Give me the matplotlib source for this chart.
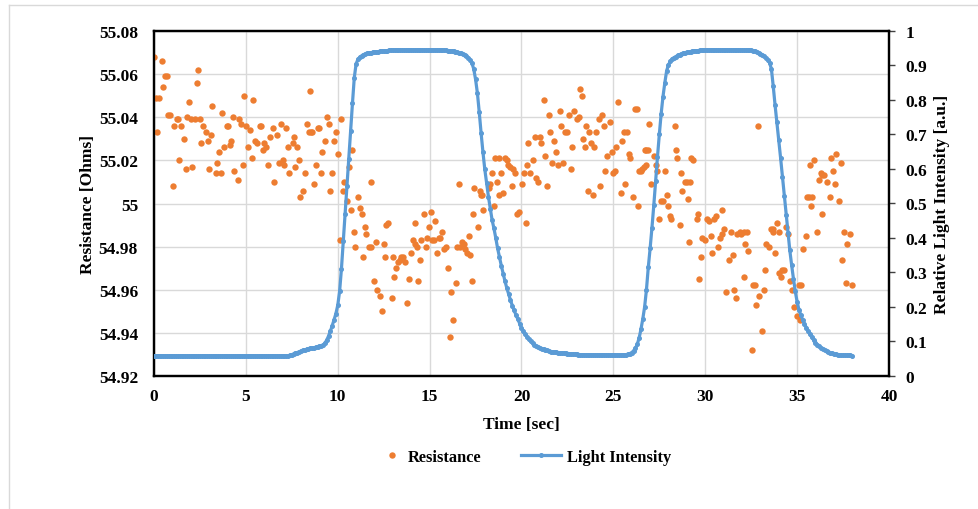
import numpy as np
import matplotlib
matplotlib.use("Agg")
import matplotlib.pyplot as plt
from matplotlib.lines import Line2D

# ---------------- data ----------------
res_time = [
    0.00, 0.09, 0.18, 0.27, 0.43, 0.51, 0.60, 0.69, 0.78, 0.87, 1.03, 1.10, 1.23, 1.32, 1.38, 1.47,
    1.63, 1.72, 1.81, 1.90, 1.99, 2.08, 2.23, 2.32, 2.41, 2.50, 2.57, 2.66, 2.83, 2.92, 3.01, 3.10,
    3.17, 3.35, 3.44, 3.53, 3.62, 3.70, 3.79, 3.95, 4.04, 4.13, 4.20, 4.29, 4.38, 4.55, 4.64, 4.73,
    4.82, 4.89, 4.98, 5.14, 5.24, 5.33, 5.40, 5.49, 5.58, 5.76, 5.83, 5.92, 6.01, 6.09, 6.18, 6.34,
    6.45, 6.52,
    6.69, 6.78, 6.92, 7.01, 7.10, 7.19, 7.28, 7.37, 7.54, 7.63, 7.70, 7.79, 7.88, 7.97, 8.13, 8.22,
    8.32, 8.41, 8.50, 8.55, 8.59, 8.73, 8.82, 8.91, 9.00, 9.08, 9.17, 9.33, 9.42, 9.51, 9.58, 9.67,
    9.77, 9.93, 10.02, 10.11, 10.18, 10.27, 10.36, 10.51, 10.62, 10.72, 10.80, 10.87, 10.96, 11.12,
    11.21, 11.30, 11.39, 11.47, 11.56, 11.72, 11.79, 11.81, 11.97, 12.07, 12.16, 12.32, 12.43, 12.50,
    12.59, 12.65, 12.75, 12.93, 13.01, 13.08, 13.15,
    13.26, 13.37, 13.44, 13.55, 13.68, 13.77, 13.86, 13.99, 14.09, 14.18, 14.22, 14.31, 14.37, 14.46,
    14.55, 14.71, 14.80, 14.87, 14.95, 15.05, 15.14, 15.22, 15.31, 15.40, 15.49, 15.58, 15.67, 15.80,
    15.89, 15.99, 16.09, 16.18, 16.27, 16.41, 16.50, 16.61, 16.67, 16.76, 16.85, 16.92, 17.03, 17.12,
    17.21, 17.28, 17.36, 17.43, 17.64, 17.72, 17.79, 17.86, 17.93, 18.22, 18.30, 18.39, 18.50, 18.57,
    18.64, 18.75, 18.80, 18.89, 19.02, 19.11, 19.20, 19.29, 19.38, 19.47, 19.56, 19.66, 19.75,
    19.89, 20.04, 20.13, 20.22, 20.31, 20.36, 20.45, 20.62, 20.71, 20.80, 20.89, 20.98, 21.05, 21.21,
    21.30, 21.40, 21.49, 21.56, 21.67, 21.76, 21.88, 21.97, 22.07, 22.16, 22.25, 22.36, 22.48, 22.57,
    22.68, 22.75, 22.84, 23.03, 23.12, 23.21, 23.30, 23.35, 23.46, 23.53, 23.62, 23.70, 23.80, 23.88,
    23.95, 24.04, 24.20, 24.29, 24.38, 24.47, 24.56, 24.66, 24.82, 24.93, 24.98, 25.07, 25.15, 25.25,
    25.40, 25.47, 25.56, 25.65, 25.74, 25.83, 25.92, 26.07, 26.20, 26.29, 26.34, 26.41,
    26.48, 26.57, 26.67, 26.70, 26.76, 26.79, 26.88, 26.94, 27.03, 27.21, 27.30, 27.35, 27.48, 27.57,
    27.72, 27.81, 27.90, 27.99, 28.06, 28.15, 28.33, 28.39, 28.48, 28.60, 28.66, 28.75, 28.89, 29.02,
    29.05, 29.09, 29.17, 29.24, 29.33, 29.53, 29.60, 29.67, 29.75, 29.84, 29.96, 30.11, 30.20, 30.33,
    30.38, 30.47, 30.56, 30.71, 30.80, 30.89, 30.92, 31.01, 31.12, 31.30, 31.39, 31.50, 31.58, 31.65,
    31.74, 31.87, 31.97, 32.10, 32.12, 32.19, 32.25, 32.35, 32.52, 32.61, 32.70, 32.77, 32.86, 32.94,
    33.08,
    33.21, 33.26, 33.33, 33.48, 33.57, 33.66, 33.71, 33.80, 33.90, 33.99, 34.02, 34.11, 34.20, 34.29,
    34.38, 34.53, 34.62, 34.71, 34.84, 34.98, 35.11, 35.16, 35.20, 35.33, 35.51, 35.56, 35.65, 35.69,
    35.78, 35.83, 35.92, 36.10, 36.20, 36.29, 36.34, 36.38, 36.47, 36.65, 36.78, 36.87, 36.96, 37.05,
    37.14, 37.28, 37.39, 37.46, 37.55, 37.65, 37.74, 37.86, 38.01,
]

resistance = [
    55.068, 55.049, 55.033, 55.049, 55.066, 55.054, 55.059, 55.059, 55.041, 55.041, 55.008, 55.036,
    55.039, 55.039, 55.020, 55.036, 55.030, 55.016, 55.040, 55.047, 55.039, 55.017, 55.039, 55.056,
    55.062, 55.039, 55.028, 55.036, 55.033, 55.029, 55.016, 55.032, 55.045, 55.014, 55.019, 55.024,
    55.014, 55.042, 55.026, 55.036, 55.036, 55.027, 55.029, 55.040, 55.015, 55.011, 55.039, 55.037,
    55.018, 55.050, 55.036, 55.026, 55.034, 55.021, 55.048, 55.029, 55.028, 55.036, 55.036, 55.025,
    55.028, 55.026, 55.018, 55.031, 55.035, 55.010,
    55.032, 55.019, 55.037, 55.020, 55.018, 55.035, 55.026, 55.014, 55.028, 55.031, 55.017, 55.026,
    55.020, 55.003, 55.006, 55.014, 55.037, 55.033, 55.052, 55.033, 55.033, 55.009, 55.018, 55.035,
    55.035, 55.014, 55.024, 55.029, 55.040, 55.037, 55.006, 55.014, 55.029, 55.033, 55.023, 54.983,
    55.039, 55.006, 55.010, 55.001, 55.017, 54.997, 55.025, 54.987, 54.980, 55.003, 54.998, 54.995,
    54.975, 54.989, 54.986, 54.980, 55.010, 54.980, 54.964, 54.982, 54.960, 54.957, 54.950, 54.981,
    54.975, 54.990, 54.991, 54.956, 54.975, 54.966, 54.970,
    54.973, 54.974, 54.975, 54.975, 54.973, 54.954, 54.965, 54.977, 54.983, 54.991, 54.981, 54.980,
    54.964, 54.974, 54.983, 54.995, 54.980, 54.984, 54.989, 54.996, 54.983, 54.983, 54.992, 54.977,
    54.984, 54.984, 54.987, 54.979, 54.980, 54.970, 54.938, 54.959, 54.946, 54.963, 54.980, 55.009,
    54.980, 54.982, 54.981, 54.979, 54.977, 54.985, 54.976, 54.964, 54.995, 55.007, 54.989, 55.006,
    55.004, 55.004, 54.997, 55.007, 55.009, 55.014, 54.999, 55.021, 55.010, 55.021, 55.004, 55.014,
    55.005, 55.021, 55.020, 55.018, 55.017, 55.008, 55.016, 55.014, 54.995,
    54.996, 55.009, 55.014, 54.991, 55.018, 55.028, 55.014, 55.020, 55.031, 55.012, 55.010, 55.031,
    55.028, 55.048, 55.022, 55.008, 55.041, 55.033, 55.019, 55.029, 55.024, 55.018, 55.043, 55.036,
    55.019, 55.033, 55.033, 55.041, 55.016, 55.026, 55.043, 55.039, 55.040, 55.053, 55.050, 55.030,
    55.026, 55.036, 55.006, 55.033, 55.028, 55.004, 55.026, 55.033, 55.039, 55.008, 55.041, 55.036,
    55.015, 55.022, 55.038, 55.024, 55.014, 55.015, 55.026, 55.047, 55.005, 55.029, 55.033, 55.009,
    55.033, 55.023, 55.021, 55.003, 55.044, 55.044, 54.999, 55.015,
    55.015, 55.016, 55.017, 55.025, 55.018, 55.025, 55.025, 55.037, 55.009, 55.022, 55.018, 55.015,
    54.993, 55.001, 55.001, 55.015, 55.004, 54.999, 54.994, 54.993, 55.036, 55.025, 55.021, 54.990,
    55.014, 55.006, 55.010, 55.010, 55.002, 54.982, 55.010, 55.021, 55.020, 54.993, 54.995, 54.965,
    54.975, 54.984, 54.983, 54.993, 54.992, 54.985, 54.977, 54.993, 54.994, 54.980, 54.984, 54.997,
    54.986, 54.988, 54.959, 54.974, 54.987, 54.976, 54.960, 54.956, 54.986, 54.987, 54.986, 54.987,
    54.966, 54.981, 54.987, 54.978, 54.932, 54.962, 54.962, 54.953, 55.036, 54.957, 54.941,
    54.960, 54.969, 54.981, 54.980, 54.988, 54.987, 54.988, 54.977, 54.991, 54.987, 54.968, 54.966,
    54.969, 54.969, 54.989, 54.986, 54.964, 54.960, 54.952, 54.948, 54.962, 54.946, 54.962, 54.979,
    54.985, 55.003, 55.003, 55.018, 54.999, 55.003, 55.020, 54.987, 55.011, 55.014, 54.995, 55.013,
    55.013, 55.010, 55.003, 55.021, 55.015, 55.009, 55.023, 55.001, 55.019, 54.974, 54.987, 54.963,
    54.981, 54.986, 54.962,
]

# light intensity sampled every 0.1 s from 0.0 to 38.0 s
light_time = np.round(np.arange(0, 381) * 0.1, 1)
light = [
    0.058, 0.058, 0.058, 0.058, 0.058, 0.058, 0.058, 0.058, 0.058, 0.058,
    0.058, 0.058, 0.058, 0.058, 0.058, 0.058, 0.058, 0.058, 0.058, 0.058,
    0.058, 0.058, 0.058, 0.058, 0.058, 0.058, 0.058, 0.058, 0.058, 0.058,
    0.058, 0.058, 0.058, 0.058, 0.058, 0.058, 0.058, 0.058, 0.058, 0.058,
    0.058, 0.058, 0.058, 0.058, 0.058, 0.058, 0.058, 0.058, 0.058, 0.058,
    0.058, 0.058, 0.058, 0.058, 0.058, 0.058, 0.058, 0.058, 0.058, 0.058,
    0.058, 0.058, 0.058, 0.058, 0.058, 0.058, 0.058, 0.058, 0.058, 0.058,
    0.058, 0.058, 0.058, 0.058, 0.060, 0.062, 0.064, 0.066, 0.068, 0.070,
    0.072, 0.074, 0.076, 0.077, 0.079, 0.080, 0.081, 0.082, 0.083, 0.084,
    0.086, 0.088, 0.090, 0.095, 0.104, 0.116, 0.130, 0.146, 0.163, 0.181,
    0.205, 0.245, 0.310, 0.390, 0.470, 0.550, 0.630, 0.710, 0.790, 0.865,
    0.905, 0.918, 0.924, 0.928, 0.931, 0.933, 0.935, 0.936, 0.937, 0.938,
    0.939, 0.940, 0.940, 0.941, 0.942, 0.942, 0.943, 0.943, 0.944, 0.944,
    0.945, 0.945, 0.945, 0.945, 0.945, 0.945, 0.945, 0.945, 0.945, 0.945,
    0.945, 0.945, 0.945, 0.945, 0.945, 0.945, 0.945, 0.945, 0.945, 0.945,
    0.945, 0.945, 0.945, 0.945, 0.945, 0.945, 0.945, 0.945, 0.944, 0.944,
    0.943, 0.943, 0.942, 0.941, 0.940, 0.939, 0.937, 0.935, 0.933, 0.930,
    0.927, 0.923, 0.917, 0.907, 0.890, 0.860, 0.820, 0.765, 0.705, 0.650,
    0.600, 0.560, 0.520, 0.485, 0.452, 0.428, 0.400, 0.370, 0.345, 0.320,
    0.297, 0.275, 0.255, 0.237, 0.220, 0.204, 0.190, 0.177, 0.165, 0.152,
    0.140, 0.130, 0.121, 0.113, 0.106, 0.100, 0.095, 0.091, 0.087, 0.084,
    0.081, 0.079, 0.077, 0.075, 0.074, 0.072, 0.071, 0.070, 0.069, 0.069,
    0.068, 0.067, 0.067, 0.066, 0.066, 0.065, 0.065, 0.064, 0.064, 0.063,
    0.063, 0.062, 0.062, 0.062, 0.061, 0.061, 0.061, 0.061, 0.061, 0.061,
    0.061, 0.061, 0.061, 0.061, 0.061, 0.061, 0.061, 0.061, 0.061, 0.061,
    0.061, 0.061, 0.061, 0.061, 0.061, 0.061, 0.061, 0.062, 0.063, 0.065,
    0.068, 0.073, 0.080, 0.092, 0.110, 0.135, 0.165, 0.200, 0.250, 0.315,
    0.370, 0.430, 0.495, 0.565, 0.635, 0.700, 0.760, 0.810, 0.850, 0.885,
    0.902, 0.912, 0.919, 0.923, 0.926, 0.929, 0.931, 0.933, 0.935, 0.937,
    0.938, 0.939, 0.940, 0.941, 0.942, 0.943, 0.943, 0.944, 0.944, 0.945,
    0.945, 0.945, 0.945, 0.945, 0.945, 0.945, 0.945, 0.945, 0.945, 0.945,
    0.945, 0.945, 0.945, 0.945, 0.945, 0.945, 0.945, 0.945, 0.945, 0.945,
    0.945, 0.945, 0.945, 0.945, 0.945, 0.944, 0.943, 0.942, 0.940, 0.937,
    0.934, 0.931, 0.927, 0.922, 0.916, 0.908, 0.890, 0.840, 0.785, 0.735,
    0.685, 0.632, 0.578, 0.523, 0.468, 0.415, 0.365, 0.322, 0.282, 0.245,
    0.215, 0.192, 0.177, 0.163, 0.151, 0.140, 0.130, 0.121, 0.112, 0.104,
    0.097, 0.091, 0.086, 0.082, 0.078, 0.075, 0.072, 0.069, 0.067, 0.066,
    0.064, 0.063, 0.062, 0.061, 0.060, 0.060, 0.060, 0.060, 0.060, 0.060,
    0.058,
]

x_ticks = [0, 5, 10, 15, 20, 25, 30, 35, 40]
left_ticks = [54.92, 54.94, 54.96, 54.98, 55.00, 55.02, 55.04, 55.06, 55.08]
left_labels = ["54.92", "54.94", "54.96", "54.98", "55", "55.02", "55.04", "55.06", "55.08"]
right_ticks = [0.0, 0.1, 0.2, 0.3, 0.4, 0.5, 0.6, 0.7, 0.8, 0.9, 1.0]
right_labels = ["0", "0.1", "0.2", "0.3", "0.4", "0.5", "0.6", "0.7", "0.8", "0.9", "1"]

# ---------------- style ----------------
ORANGE = "#ED7D31"
BLUE = "#5B9BD5"
FS = 12.5
LEG_FS = 11.8
plt.rcParams["font.family"] = ["Liberation Serif", "DejaVu Serif"]
plt.rcParams["font.weight"] = "bold"

W, H = 979, 510
fig = plt.figure(figsize=(W / 100, H / 100), dpi=100)

# light grey outer frame (top and left edges visible)
fig.add_artist(Line2D([9 / W, 9 / W], [0, 1 - 6 / H], color="#d9d9d9", lw=1.0))
fig.add_artist(Line2D([9 / W, 1], [1 - 6 / H, 1 - 6 / H], color="#d9d9d9", lw=1.0))

ax = fig.add_axes([154 / W, 133 / H, 735 / W, 345 / H])
ax2 = ax.twinx()

res_line, = ax.plot(res_time, resistance, linestyle="none", marker="o", ms=4.6,
                    color=ORANGE, mec="none", label="Resistance", zorder=3)
light_line, = ax2.plot(light_time, light, color=BLUE, lw=2.3, marker="o", ms=2.6,
                       mec=BLUE, label="Light Intensity", zorder=3)

ax.set_xlim(0, 40)
ax.set_ylim(54.92, 55.08)
ax2.set_ylim(0, 1)

ax.set_xticks(x_ticks)
ax.set_xticklabels([str(v) for v in x_ticks], fontsize=FS, fontweight="bold")
ax.set_yticks(left_ticks)
ax.set_yticklabels(left_labels, fontsize=FS, fontweight="bold")
ax2.set_yticks(right_ticks)
ax2.set_yticklabels(right_labels, fontsize=FS, fontweight="bold")

ax.grid(True, color="#d9d9d9", lw=1.0)
ax.set_axisbelow(True)

for a in (ax, ax2):
    for s in a.spines.values():
        s.set_color("black")
        s.set_linewidth(1.6)

ax.tick_params(axis="x", length=0, pad=9)
ax.tick_params(axis="y", length=0, pad=11.5)
ax2.tick_params(axis="y", length=4, width=1, color="#404040", direction="out", pad=8)

ax.set_xlabel("Time [sec]", fontsize=FS, fontweight="bold", va="center")
ax.xaxis.set_label_coords(0.5, -0.139)
ax.set_ylabel("Resistance [Ohms]", fontsize=FS, fontweight="bold", va="center")
ax.yaxis.set_label_coords((88 - 154) / 735, 0.5)
ax2.set_ylabel("Relative Light Intensity [a.u.]", fontsize=FS, fontweight="bold", va="center")
ax2.yaxis.set_label_coords((942 - 154) / 735, 0.5)

leg_prop = {"family": "Liberation Serif", "weight": "bold", "size": LEG_FS}
leg1 = fig.legend([res_line], ["Resistance"], loc="center left",
                  bbox_to_anchor=(382 / W, 1 - 458 / H), frameon=False, prop=leg_prop,
                  handlelength=1.2, handletextpad=0.4, borderpad=0, borderaxespad=0)
leg2 = fig.legend([light_line], ["Light Intensity"], loc="center left",
                  bbox_to_anchor=(521 / W, 1 - 458 / H), frameon=False, prop=leg_prop,
                  handlelength=2.45, handletextpad=0.35, borderpad=0, borderaxespad=0)

fig.savefig("out.png", dpi=100)
